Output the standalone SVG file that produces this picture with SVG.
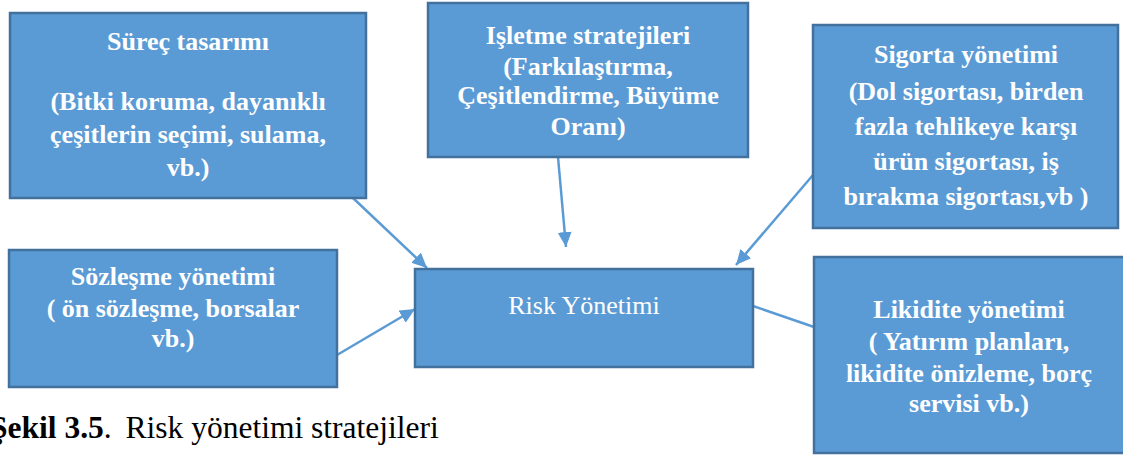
<svg xmlns="http://www.w3.org/2000/svg" width="1123" height="457" viewBox="0 0 1123 457">
<style>
.box{fill:#5B9BD5;stroke:#41719C;stroke-width:2.5}
.t{font-family:'Liberation Serif',serif;font-size:26px;font-weight:bold;fill:#FFFFFF;text-anchor:middle}
.tn{font-family:'Liberation Serif',serif;font-size:26px;fill:#FFFFFF;text-anchor:middle}
.c{stroke:#5B9BD5;stroke-width:2.5;fill:none}
.cap{font-family:'Liberation Serif',serif;font-size:31.5px;fill:#000000}
</style>
<defs>
<marker id="ah" markerUnits="userSpaceOnUse" markerWidth="16" markerHeight="15" refX="15" refY="7" orient="auto" viewBox="0 0 16 15">
<path d="M0,0 L15,7 L0,14 z" fill="#5B9BD5"/>
</marker>
</defs>
<rect width="1123" height="457" fill="#FFFFFF"/>
<g id="connectors">
<line class="c" x1="353" y1="198" x2="427" y2="268" marker-end="url(#ah)"/>
<line class="c" x1="558" y1="157" x2="566" y2="247" marker-end="url(#ah)"/>
<line class="c" x1="813" y1="175" x2="736" y2="265" marker-end="url(#ah)"/>
<line class="c" x1="337" y1="355" x2="415" y2="309" marker-end="url(#ah)"/>
<line class="c" x1="753" y1="306" x2="814" y2="327"/>
</g>
<g id="surec">
<rect class="box" x="10" y="13" width="356" height="185"/>
<text class="t" x="188" y="50">Süreç tasarımı</text>
<text class="t" x="188" y="110">(Bitki koruma, dayanıklı</text>
<text class="t" x="188" y="143">çeşitlerin seçimi, sulama,</text>
<text class="t" x="188" y="176">vb.)</text>
</g>
<g id="isletme">
<rect class="box" x="428" y="3" width="320" height="154"/>
<text class="t" x="588" y="44">Işletme stratejileri</text>
<text class="t" x="588" y="75">(Farkılaştırma,</text>
<text class="t" x="588" y="104">Çeşitlendirme, Büyüme</text>
<text class="t" x="588" y="135">Oranı)</text>
</g>
<g id="sigorta">
<rect class="box" x="813" y="25" width="305" height="203"/>
<text class="t" x="966" y="63">Sigorta yönetimi</text>
<text class="t" x="966" y="100">(Dol sigortası, birden</text>
<text class="t" x="966" y="135">fazla tehlikeye karşı</text>
<text class="t" x="966" y="170">ürün sigortası, iş</text>
<text class="t" x="966" y="205">bırakma sigortası,vb )</text>
</g>
<g id="risk">
<rect class="box" x="415" y="269" width="338" height="98"/>
<text class="tn" x="584" y="314">Risk Yönetimi</text>
</g>
<g id="sozlesme">
<rect class="box" x="9" y="250" width="328" height="137"/>
<text class="t" x="173" y="285">Sözleşme yönetimi</text>
<text class="t" x="173" y="317">( ön sözleşme, borsalar</text>
<text class="t" x="173" y="347">vb.)</text>
</g>
<g id="likidite">
<rect class="box" x="814" y="257" width="312" height="196"/>
<text class="t" x="969" y="318">Likidite yönetimi</text>
<text class="t" x="969" y="350">( Yatırım planları,</text>
<text class="t" x="969" y="382">likidite önizleme, borç</text>
<text class="t" x="969" y="412">servisi vb.)</text>
</g>
<text class="cap" x="-10" y="438"><tspan font-weight="bold">Şekil 3.5</tspan>. <tspan dx="6">Risk yönetimi stratejileri</tspan></text>
</svg>
